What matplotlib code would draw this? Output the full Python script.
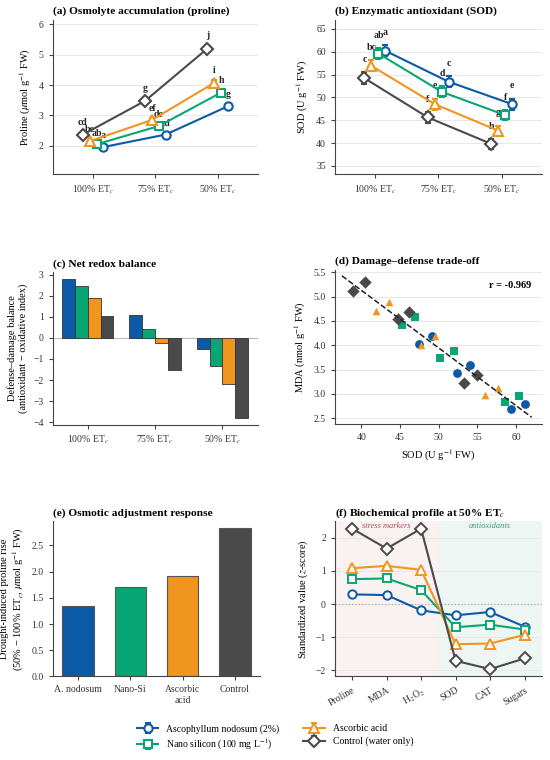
import numpy as np
import matplotlib
matplotlib.use("Agg")
import matplotlib.pyplot as plt

plt.rcParams['font.family'] = ['Liberation Serif', 'DejaVu Serif']
plt.rcParams['mathtext.fontset'] = 'stix'
plt.rcParams['axes.edgecolor'] = '#444444'
plt.rcParams['xtick.color'] = '#444444'
plt.rcParams['ytick.color'] = '#444444'
plt.rcParams['xtick.labelcolor'] = '#333333'
plt.rcParams['ytick.labelcolor'] = '#333333'

# treatments
treatments = ["Ascophyllum nodosum (2%)", "Nano silicon (100 mg L$^{-1}$)",
              "Ascorbic acid", "Control (water only)"]
short_names = ["A. nodosum", "Nano-Si", "Ascorbic\nacid", "Control"]
colors = ["#0B5AA8", "#07A674", "#F0951E", "#4A4A4A"]
markers = ["o", "s", "^", "D"]
offsets = [0.165, 0.055, -0.055, -0.165]
levels = ["100% ET$_c$", "75% ET$_c$", "50% ET$_c$"]

# (a) proline
proline = [[1.96, 2.37, 3.30],
           [2.05, 2.65, 3.75],
           [2.15, 2.85, 4.07],
           [2.37, 3.48, 5.20]]
proline_err = [[0.04, 0.04, 0.05],
               [0.04, 0.05, 0.07],
               [0.05, 0.06, 0.09],
               [0.05, 0.07, 0.10]]
proline_letters = [["a", "cd", "g"], ["ab", "de", "h"],
                   ["bc", "ef", "i"], ["cd", "g", "j"]]

# (b) SOD
sod = [[60.2, 53.4, 48.5],
       [59.6, 51.2, 46.1],
       [56.9, 48.5, 42.7],
       [54.2, 45.6, 39.8]]
sod_err = [[1.2, 1.2, 1.2],
           [1.2, 1.2, 1.1],
           [1.2, 1.2, 1.1],
           [1.3, 1.2, 1.1]]
sod_letters = [["a", "c", "e"], ["ab", "d", "f"],
               ["bc", "e", "g"], ["c", "f", "h"]]

# (c) net redox balance
balance = [[2.81, 1.08, -0.52],
           [2.49, 0.41, -1.33],
           [1.90, -0.25, -2.19],
           [1.03, -1.52, -3.80]]

# (d) SOD vs MDA, 6 points per treatment
sod_pts = [[47.5, 49.1, 52.4, 54.1, 59.3, 61.2],
           [45.3, 46.9, 50.2, 52.0, 58.6, 60.3],
           [41.9, 43.6, 47.7, 49.5, 56.0, 57.7],
           [38.9, 40.5, 44.7, 46.2, 53.2, 55.0]]
mda_pts = [[4.03, 4.19, 3.43, 3.59, 2.68, 2.79],
           [4.42, 4.59, 3.73, 3.88, 2.83, 2.96],
           [4.71, 4.88, 4.01, 4.18, 2.98, 3.12],
           [5.12, 5.29, 4.53, 4.69, 3.23, 3.38]]

# (f) profile at 50% ETc
profile_vars = ["Proline", "MDA", "H$_2$O$_2$", "SOD", "CAT", "Sugars"]
profile = [[0.29, 0.27, -0.19, -0.34, -0.24, -0.68],
           [0.75, 0.77, 0.42, -0.70, -0.62, -0.77],
           [1.08, 1.15, 1.03, -1.21, -1.19, -0.93],
           [2.27, 1.67, 2.27, -1.71, -1.96, -1.64]]

fig = plt.figure(figsize=(5.5, 7.6), dpi=100)
ax_a = fig.add_axes([0.096, 0.771, 0.373, 0.203])
ax_b = fig.add_axes([0.609, 0.771, 0.376, 0.203])
ax_c = fig.add_axes([0.096, 0.441, 0.373, 0.201])
ax_d = fig.add_axes([0.609, 0.442, 0.376, 0.203])
ax_e = fig.add_axes([0.096, 0.110, 0.377, 0.204])
ax_f = fig.add_axes([0.609, 0.110, 0.376, 0.204])

title_kw = dict(fontsize=8.2, fontweight='bold', loc='left', pad=4)
x = np.arange(len(levels))


def style(ax, grid=True):
    for s in ['top', 'right']:
        ax.spines[s].set_visible(False)
    ax.tick_params(labelsize=7, length=3, width=0.8)
    if grid:
        ax.grid(axis='y', color='#e8e8e8', linewidth=0.7)
        ax.set_axisbelow(True)


def line_panel(ax, vals, errs, letters, pad):
    handles = []
    for i in range(4):
        xi = x + offsets[i]
        h = ax.errorbar(xi, vals[i], yerr=errs[i], color=colors[i], marker=markers[i],
                        markersize=6 if markers[i] != '^' else 6.5,
                        markerfacecolor='white', markeredgewidth=1.5, linewidth=1.5,
                        capsize=2.5, elinewidth=1.2, capthick=1.2, zorder=3)
        handles.append(h)
        for j in range(3):
            ax.annotate(letters[i][j], (xi[j], vals[i][j] + errs[i][j]), xytext=(0, pad),
                        textcoords='offset points', ha='center', va='bottom',
                        fontsize=7, fontweight='bold', color='#222222')
    ax.set_xticks(x)
    ax.set_xticklabels(levels)
    return handles


# (a)
style(ax_a)
handles = line_panel(ax_a, proline, proline_err, proline_letters, 4)
ax_a.set_xlim(-0.65, 2.65)
ax_a.set_ylim(1.07, 6.15)
ax_a.set_yticks([2, 3, 4, 5, 6])
ax_a.set_ylabel("Proline ($\\mu$mol g$^{-1}$ FW)", fontsize=7.5)
ax_a.set_title("(a) Osmolyte accumulation (proline)", **title_kw)

# (b)
style(ax_b)
line_panel(ax_b, sod, sod_err, sod_letters, 6)
ax_b.set_xlim(-0.63, 2.63)
ax_b.set_ylim(33.2, 67)
ax_b.set_yticks(range(35, 66, 5))
ax_b.set_ylabel("SOD (U g$^{-1}$ FW)", fontsize=7.5)
ax_b.set_title("(b) Enzymatic antioxidant (SOD)", **title_kw)

# (c)
style(ax_c, grid=False)
w = 0.19
for i in range(4):
    ax_c.bar(x + (i - 1.5) * w, balance[i], width=w, color=colors[i],
             edgecolor='#333333', linewidth=0.6, zorder=3)
ax_c.axhline(0, color='#bbbbbb', linewidth=0.8, zorder=2)
ax_c.set_xticks(x)
ax_c.set_xticklabels(levels)
ax_c.set_xlim(-0.52, 2.53)
ax_c.set_ylim(-4.13, 3.13)
ax_c.set_yticks(range(-4, 4))
ax_c.set_yticklabels([str(v).replace('-', '\u2212') for v in range(-4, 4)])
ax_c.set_ylabel("Defense\u2013damage balance\n(antioxidant \u2212 oxidative index)", fontsize=7.5)
ax_c.set_title("(c) Net redox balance", **title_kw)

# (d)
style(ax_d)
for i in range(4):
    ax_d.scatter(sod_pts[i], mda_pts[i], color=colors[i], marker=markers[i],
                 s=40 if markers[i] != '^' else 30, linewidths=0, zorder=3)
all_sod = np.concatenate(sod_pts)
all_mda = np.concatenate(mda_pts)
slope, icpt = np.polyfit(all_sod, all_mda, 1)
xx = np.array([37.5, 62])
ax_d.plot(xx, slope * xx + icpt, '--', color='#222222', linewidth=1.1, zorder=4)
ax_d.text(0.95, 0.9, "r = -0.969", transform=ax_d.transAxes, ha='right', va='center',
          fontsize=7.5, fontweight='bold')
ax_d.set_xlim(36.6, 63.3)
ax_d.set_ylim(2.38, 5.55)
ax_d.set_xticks(range(40, 61, 5))
ax_d.set_yticks(np.arange(2.5, 5.6, 0.5))
ax_d.set_xlabel("SOD (U g$^{-1}$ FW)", fontsize=7.5)
ax_d.set_ylabel("MDA (nmol g$^{-1}$ FW)", fontsize=7.5)
ax_d.set_title("(d) Damage\u2013defense trade-off", **title_kw)

# (e)
style(ax_e, grid=False)
rise = [proline[i][2] - proline[i][0] for i in range(4)]
ax_e.bar(range(4), rise, width=0.6, color=colors, edgecolor='#555555', linewidth=0.8)
ax_e.set_xticks(range(4))
ax_e.set_xticklabels(short_names)
ax_e.set_xlim(-0.48, 3.48)
ax_e.set_ylim(0, 2.96)
ax_e.set_yticks(np.arange(0, 2.6, 0.5))
ax_e.set_ylabel("Drought-induced proline rise\n(50% \u2212 100% ET$_c$, $\\mu$mol g$^{-1}$ FW)",
                fontsize=7.5)
ax_e.set_title("(e) Osmotic adjustment response", **title_kw)

# (f)
style(ax_f)
xf = np.arange(len(profile_vars))
ax_f.axvspan(-0.5, 2.5, color='#f9ecec', alpha=0.7, zorder=0, linewidth=0)
ax_f.axvspan(2.5, 5.5, color='#e8f3ee', alpha=0.7, zorder=0, linewidth=0)
ax_f.axhline(0, color='#aaaaaa', linestyle=':', linewidth=0.9, zorder=1)
for i in range(4):
    ax_f.plot(xf, profile[i], color=colors[i], marker=markers[i], markersize=6 if markers[i] != '^' else 6.5,
              markerfacecolor='white', markeredgewidth=1.4, linewidth=1.5, zorder=3)
ax_f.text(1.0, 2.36, "stress markers", ha='center', va='center', fontsize=6,
          style='italic', color='#b5475a')
ax_f.text(4.0, 2.36, "antioxidants", ha='center', va='center', fontsize=6,
          style='italic', color='#3c9a7a')
ax_f.set_xlim(-0.5, 5.5)
ax_f.set_ylim(-2.18, 2.49)
ax_f.set_xticks(xf)
ax_f.set_xticklabels(profile_vars, rotation=30, ha='right', rotation_mode='anchor')
ax_f.set_yticks([-2, -1, 0, 1, 2])
ax_f.set_yticklabels(['\u22122', '\u22121', '0', '1', '2'])
ax_f.set_ylabel("Standardized value ($z$-score)", fontsize=7.5)
ax_f.set_title("(f) Biochemical profile at 50% ET$_c$", **title_kw)

fig.legend(handles, treatments, loc='center', bbox_to_anchor=(0.5, 0.029), ncol=2,
           frameon=False, fontsize=7, handlelength=2.2, columnspacing=2.5,
           labelspacing=0.35)

fig.savefig("out.png", dpi=100)
